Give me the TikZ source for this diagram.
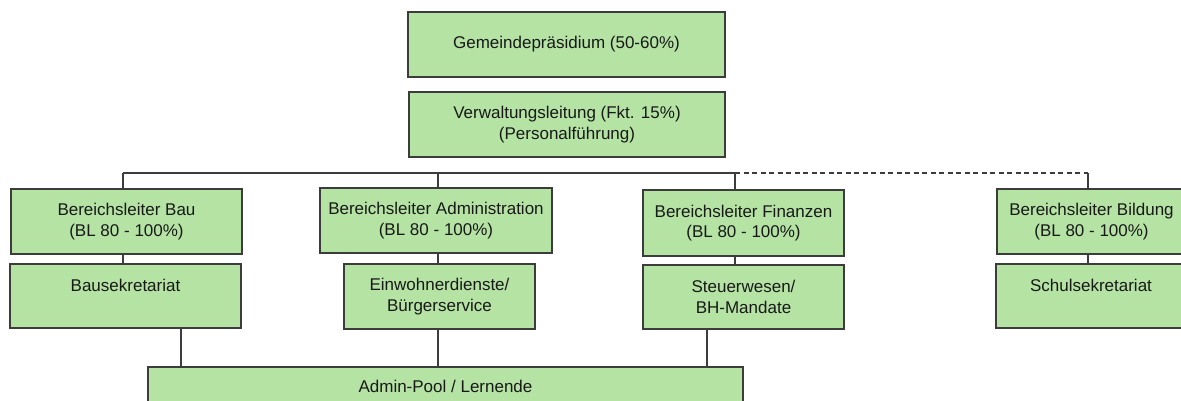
\documentclass[tikz,border=0pt]{standalone}
\usepackage{fontspec}
\setmainfont{Liberation Sans}
\definecolor{boxfill}{RGB}{180,227,163}
\definecolor{boxdraw}{RGB}{60,60,60}
\definecolor{txt}{RGB}{25,25,25}
\tikzset{
  orgbox/.style={draw=boxdraw, fill=boxfill, line width=1.3pt, inner sep=0pt, align=center,
    text=txt, font=\fontsize{17}{20.5}\selectfont},
  conn/.style={draw=boxdraw, line width=1.2pt},
  dconn/.style={conn, dash pattern=on 5pt off 3.5pt}
}
\newcommand{\orgnode}[6]{% name, x1, y1, x2, y2, text
  \node[orgbox, minimum width={#4-#2}, minimum height={#5-#3}] (#1) at ({(#2+#4)/2},{(#3+#5)/2}) {#6};}
\begin{document}
\begin{tikzpicture}[x=1pt,y=-1pt]
\useasboundingbox (0,0) rectangle (1181,400);
\clip (0,0) rectangle (1181,400);
\orgnode{gp}{408}{12}{725}{77}{Gemeindepräsidium (50-60\%)}
\orgnode{vl}{409}{92}{725}{157}{Verwaltungsleitung (Fkt. 15\%)\\(Personalführung)}
\orgnode{bau}{11}{189}{242}{254}{Bereichsleiter Bau\\(BL 80 - 100\%)}
\orgnode{bsek}{10}{264}{241}{328}{Bausekretariat\\\mbox{}}
\orgnode{adm}{320}{188}{552}{253}{Bereichsleiter Administration\\(BL 80 - 100\%)}
\orgnode{ew}{344}{264}{535}{329}{Einwohnerdienste/\\Bürgerservice}
\orgnode{fin}{643}{190}{844}{256}{Bereichsleiter Finanzen\\(BL 80 - 100\%)}
\orgnode{st}{643}{265}{844}{329}{Steuerwesen/\\BH-Mandate}
\orgnode{bil}{997}{189}{1186}{254}{Bereichsleiter Bildung\\(BL 80 - 100\%)}
\orgnode{ssek}{996}{264}{1186}{328}{Schulsekretariat\\\mbox{}}
\orgnode{pool}{148}{367}{743}{405}{Admin-Pool / Lernende}
% bus
\coordinate (b1) at (123,173);
\coordinate (b2) at (438,173);
\coordinate (b3) at (735,173);
\coordinate (b4) at (1088,173);
\draw[conn] (b1) -- (b3);
\draw[dconn] (b3) -- (b4);
\draw[conn] (b1) -- (b1 |- bau.north);
\draw[conn] (b2) -- (b2 |- adm.north);
\draw[conn] (b3) -- (b3 |- fin.north);
\draw[conn] (b4) -- (b4 |- bil.north);
% to second row
\draw[conn] (b1 |- bau.south) -- (b1 |- bsek.north);
\draw[conn] (b2 |- adm.south) -- (b2 |- ew.north);
\draw[conn] (b3 |- fin.south) -- (b3 |- st.north);
\draw[conn] (b4 |- bil.south) -- (b4 |- ssek.north);
% to pool
\coordinate (p1) at (181,367);
\coordinate (p2) at (438,367);
\coordinate (p3) at (707,367);
\draw[conn] (p1 |- bsek.south) -- (p1 |- pool.north);
\draw[conn] (p2 |- ew.south) -- (p2 |- pool.north);
\draw[conn] (p3 |- st.south) -- (p3 |- pool.north);
\end{tikzpicture}
\end{document}
